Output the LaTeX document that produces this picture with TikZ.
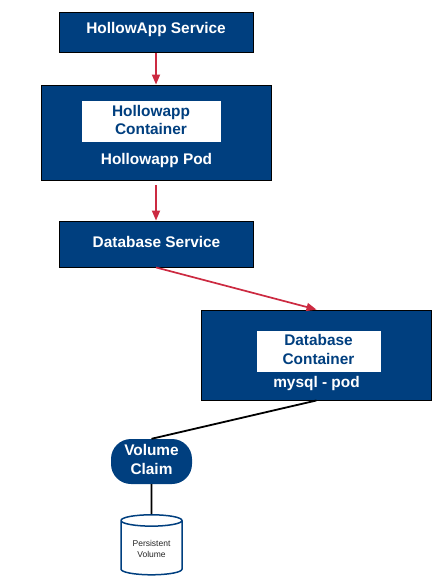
\documentclass[tikz,border=0pt]{standalone}
\usepackage{fontspec}
\setmainfont{Liberation Sans}
\usetikzlibrary{shapes.geometric,arrows.meta}
\definecolor{navy}{HTML}{003F7F}
\definecolor{redline}{HTML}{CC2A41}
\newcommand{\labelfont}{\bfseries\fontsize{15.4}{18.5}\selectfont}
\tikzset{
  x=1pt,y=-1pt,
  bluebox/.style={draw=black,line width=0.9pt,fill=navy,inner sep=0pt},
  whitebox/.style={fill=white,inner sep=0pt},
  plabel/.style={inner sep=0pt,text=white,font=\labelfont,align=center},
  clabel/.style={inner sep=0pt,text=navy,font=\labelfont,align=center},
  redarrow/.style={draw=redline,line width=1.7pt,-{Triangle[length=10pt,width=8pt]}},
  blackline/.style={draw=black,line width=1.8pt},
  pillbox/.style={rounded corners=20pt,fill=navy,inner sep=0pt},
  cyl/.style={cylinder,shape border rotate=90,shape aspect=0.3,draw=navy,line width=1.5pt,fill=white,inner sep=0pt,text=black!85,font=\fontsize{8.5}{11}\selectfont}
}
\begin{document}
\begin{tikzpicture}
\useasboundingbox (0,0) rectangle (438,584);
\node[bluebox,minimum width=194pt,minimum height=40pt] (s1) at (156,32.5) {};
\node[plabel] (s1t) at (156,29.5) {HollowApp Service};
\node[bluebox,minimum width=230pt,minimum height=95pt] (p1) at (156,132.5) {};
\node[whitebox,minimum width=139pt,minimum height=41pt] (c1) at (151.5,121.5) {};
\node[clabel] (c1t) at (151,119.8) {Hollowapp\\Container};
\node[plabel] (p1t) at (156.5,161) {Hollowapp Pod};
\node[bluebox,minimum width=194pt,minimum height=46pt] (s2) at (156,244) {};
\node[plabel] (s2t) at (156.5,242) {Database Service};
\node[bluebox,minimum width=230pt,minimum height=90pt] (p2) at (316.5,355) {};
\node[whitebox,minimum width=124pt,minimum height=41pt] (c2) at (319,351.5) {};
\node[clabel] (c2t) at (318.5,349.5) {Database\\Container};
\node[plabel] (p2t) at (316.5,383.5) {mysql - pod};
\node[pillbox,minimum width=81pt,minimum height=45pt] (vc) at (151.5,461.5) {};
\node[plabel] (vct) at (151.5,459.5) {Volume\\Claim};
\node[cyl,minimum width=61pt,minimum height=60pt] (pv) at (151.5,548) {\raisebox{-2pt}[\height][\depth]{\begin{tabular}{@{}c@{}}Persistent\\Volume\end{tabular}}};
\draw[redarrow] (s1.south) -- (p1.north);
\draw[redarrow,shorten <=5pt] (p1.south) -- (s2.north);
\draw[redarrow] (s2.south) -- (p2.north);
\draw[blackline] (p2.south) -- (vc.north);
\draw[blackline] (vc.south) -- (pv.north);
\end{tikzpicture}
\end{document}
